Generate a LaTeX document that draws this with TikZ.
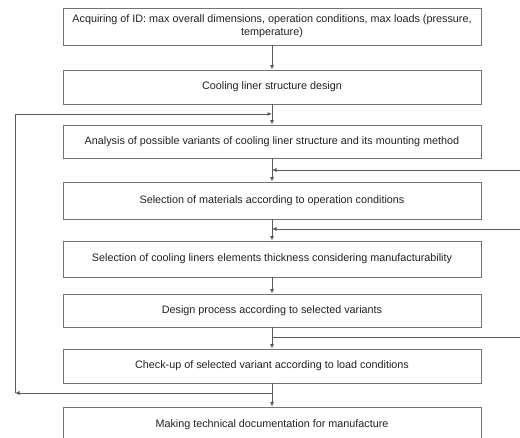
\documentclass[tikz,border=0pt]{standalone}
\usepackage{fontspec}
\setmainfont{Liberation Sans}
\usetikzlibrary{arrows.meta, positioning}

\definecolor{linegray}{HTML}{5A5A5A}
\definecolor{textgray}{HTML}{222222}

\tikzset{
  stage/.style={draw=linegray!85, line width=0.9pt, fill=white, minimum width=418pt,
    inner sep=0pt, align=center, text=textgray,
    font=\fontsize{10.8}{12.8}\selectfont},
  link/.style={draw=linegray, line width=0.8pt}
}

\begin{document}
\begin{tikzpicture}[x=1pt, y=-1pt, >={Latex[length=4.5pt,width=4pt]}]
  \clip (0,0) rectangle (520,438);
  \fill[white] (0,0) rectangle (520,438);

  \node[stage, minimum height=37pt] (id) at (272,26.5)
    {Acquiring of ID: max overall dimensions, operation conditions, max loads (pressure,\\temperature)};
  \node[stage, minimum height=34pt] (struct) at (272,87) {Cooling liner structure design};
  \node[stage, minimum height=33pt] (variants) at (272,141.5)
    {Analysis of possible variants of cooling liner structure and its mounting method};
  \node[stage, minimum height=37pt] (materials) at (272,200.5)
    {Selection of materials according to operation conditions};
  \node[stage, minimum height=36pt] (thickness) at (272,259)
    {Selection of cooling liners elements thickness considering manufacturability};
  \node[stage, minimum height=33pt] (process) at (272,310.5)
    {Design process according to selected variants};
  \node[stage, minimum height=34pt] (checkup) at (272,366)
    {Check-up of selected variant according to load conditions};
  \node[stage, minimum height=36pt] (docs) at (272,425)
    {Making technical documentation for manufacture};

  % main chain
  \foreach \a/\b in {id/struct, struct/variants, variants/materials, materials/thickness,
      thickness/process, process/checkup, checkup/docs}
    \draw[link, ->] (\a) -- (\b);

  % feedback from the right
  \coordinate (back1) at (520,170);
  \coordinate (back2) at (520,229);
  \coordinate (back3) at (520,337);
  \draw[link, ->] (back1) -- (variants.south |- back1);
  \draw[link, ->] (back2) -- (materials.south |- back2);
  \draw[link] (process.south |- back3) -- (back3);

  % loop back on the left
  \coordinate (loopdown) at (15,393);
  \coordinate (loopup) at (15,114);
  \draw[link, ->] (checkup.south |- loopdown) -- (loopdown);
  \draw[link, ->] (loopdown) -- (loopup) -- (variants.north |- loopup);
\end{tikzpicture}
\end{document}
